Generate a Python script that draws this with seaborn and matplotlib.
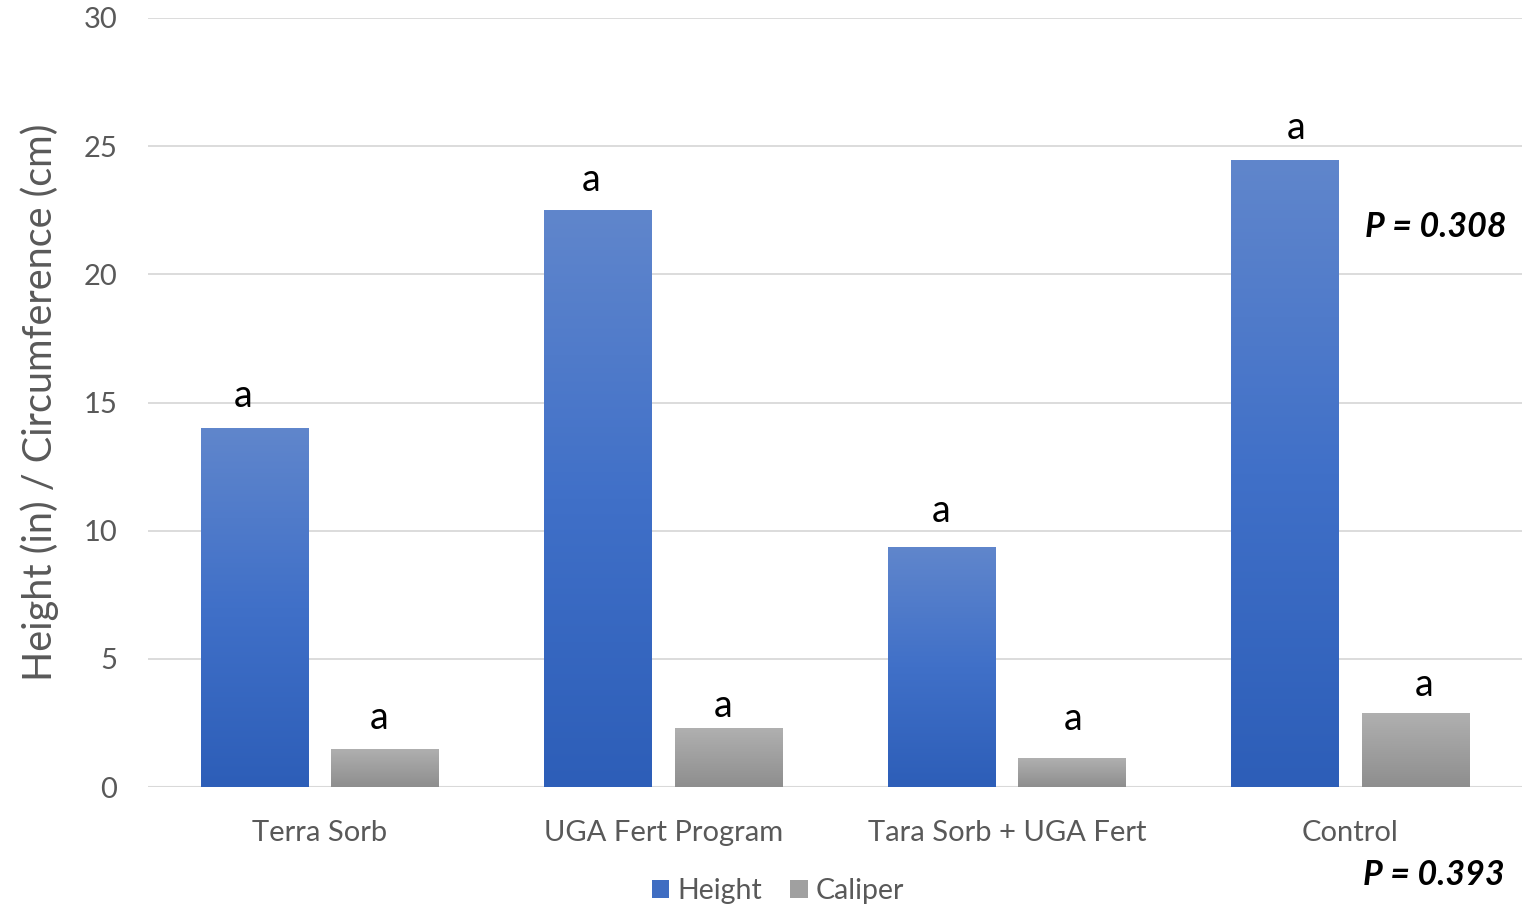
import numpy as np
import pandas as pd
import matplotlib
matplotlib.use("Agg")
import matplotlib.pyplot as plt
import seaborn as sns
from matplotlib.patches import Patch
from matplotlib.colors import LinearSegmentedColormap

categories = ["Terra Sorb", "UGA Fert Program", "Tara Sorb + UGA Fert", "Control"]
height_vals = [14.0, 22.5, 9.35, 24.45]
caliper_vals = [1.5, 2.3, 1.12, 2.88]
series = ["Height", "Caliper"]
letters_height = ["a", "a", "a", "a"]
letters_caliper = ["a", "a", "a", "a"]
yticks = [0, 5, 10, 15, 20, 25, 30]

# label nudges in points (dx, dy) to mimic hand-placed labels
nudge_height = [(-8, 10), (-5, 9), (0, 13), (8, 10)]
nudge_caliper = [(-4, 9), (-4, 3), (1, 15), (6, 7)]

df = pd.DataFrame({
    "Treatment": categories * 2,
    "Value": height_vals + caliper_vals,
    "Series": ["Height"] * 4 + ["Caliper"] * 4,
})

sns.set_theme(style="white")
plt.rcParams["font.family"] = ["Lato", "DejaVu Sans"]

fig = plt.figure(figsize=(15.22, 9.07), dpi=100)
ax = fig.add_axes([148 / 1522, 120 / 907, 1 - 148 / 1522, (787 - 18) / 907])

palette = {"Height": "#4472C4", "Caliper": "#A5A5A5"}
sns.barplot(data=df, x="Treatment", y="Value", hue="Series", order=categories,
            hue_order=series, palette=palette, width=0.76, gap=0.18,
            ax=ax, legend=False, errorbar=None, saturation=1)

ax.set_ylim(0, 30)
ax.set_xlim(-0.5, 3.5)
ax.set_yticks(yticks)
ax.yaxis.grid(True, color="#D9D9D9", linewidth=1.3)
ax.set_axisbelow(True)
for s in ax.spines.values():
    s.set_visible(False)
ax.axhline(0, color="#D9D9D9", linewidth=1.5, zorder=0.5)
ax.tick_params(axis="both", length=0, labelsize=21, colors="#595959")
ax.tick_params(axis="x", pad=24)
ax.tick_params(axis="y", pad=22)
ax.set_xlabel("")
ax.set_ylabel("Height (in) / Circumference (cm)", fontsize=28.5, color="#595959", labelpad=18)

cmaps = {
    "Height": LinearSegmentedColormap.from_list("hb", ["#2D5EB8", "#4070C8", "#6086CC"]),
    "Caliper": LinearSegmentedColormap.from_list("gb", ["#8E8E8E", "#B0B0B0"]),
}
grad = np.linspace(0, 1, 256).reshape(-1, 1)
n = len(categories)
for i, p in enumerate(ax.patches[: 2 * n]):
    ser = "Height" if i < n else "Caliper"
    x0, w = p.get_x(), p.get_width()
    h = p.get_height()
    p.set_facecolor("none")
    p.set_edgecolor("none")
    im = ax.imshow(grad, extent=[x0, x0 + w, 0, h], origin="lower", aspect="auto",
                   cmap=cmaps[ser], zorder=2)
    im.set_clip_path(p)
    letter = (letters_height if ser == "Height" else letters_caliper)[i % n]
    dx, dy = (nudge_height if ser == "Height" else nudge_caliper)[i % n]
    ax.annotate(letter, (x0 + w / 2, h), xytext=(dx, dy), textcoords="offset points",
                ha="center", va="bottom", fontsize=27, color="black")
ax.set_xlim(-0.5, 3.5)
ax.set_ylim(0, 30)

fig.text(1507 / 1522, 1 - 227 / 907, "P = 0.308", ha="right", va="center",
         fontsize=24.5, fontweight="bold", fontstyle="italic", color="black")
fig.text(1505 / 1522, 1 - 875 / 907, "P = 0.393", ha="right", va="center",
         fontsize=24.5, fontweight="bold", fontstyle="italic", color="black")

handles = [Patch(facecolor="#3F6DC2", edgecolor="none", label="Height"),
           Patch(facecolor="#A0A0A0", edgecolor="none", label="Caliper")]
leg = fig.legend(handles=handles, loc="center", bbox_to_anchor=(778 / 1522, 1 - 891 / 907),
                 ncol=2, frameon=False, fontsize=20.5, handlelength=0.6, handleheight=0.6,
                 handletextpad=0.3, columnspacing=1.0)
for t in leg.get_texts():
    t.set_color("#595959")

fig.savefig("out.png", dpi=100)
